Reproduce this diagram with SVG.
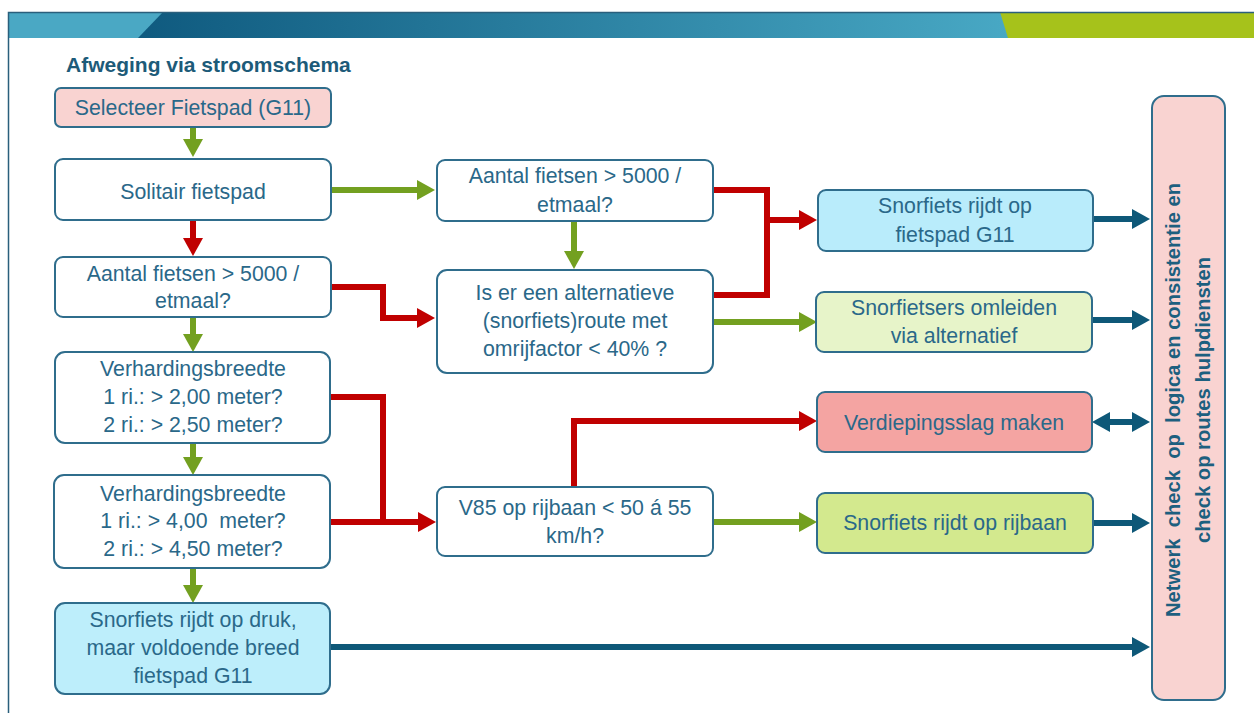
<svg xmlns="http://www.w3.org/2000/svg" width="1254" height="713" viewBox="0 0 1254 713">
<style>
.box{stroke:#2f6d8c;stroke-width:2}
.w{fill:#ffffff}
.t{font-family:"Liberation Sans",Arial,sans-serif;font-size:21.3px;fill:#2a6889;text-anchor:middle}
.tb{font-family:"Liberation Sans",Arial,sans-serif;font-size:20.2px;font-weight:bold;fill:#1d5f7f;text-anchor:middle}
.c{fill:none;stroke-width:6}
.g{stroke:#73a020}
.r{stroke:#c00000}
.b{stroke:#0e5878}
</style>
<defs>
<linearGradient id="hdr" x1="0" y1="0" x2="1" y2="0">
<stop offset="0" stop-color="#0f5a7f"/>
<stop offset="1" stop-color="#48a8c4"/>
</linearGradient>
<marker id="ag" markerUnits="userSpaceOnUse" markerWidth="18" markerHeight="20" refX="8" refY="10" orient="auto"><path d="M0,0 L18,10 L0,20 z" fill="#73a020"/></marker>
<marker id="ar" markerUnits="userSpaceOnUse" markerWidth="18" markerHeight="20" refX="8" refY="10" orient="auto"><path d="M0,0 L18,10 L0,20 z" fill="#c00000"/></marker>
<marker id="ab" markerUnits="userSpaceOnUse" markerWidth="18" markerHeight="20" refX="8" refY="10" orient="auto-start-reverse"><path d="M0,0 L18,10 L0,20 z" fill="#0e5878"/></marker>
</defs>

<g id="header">
<rect x="8" y="12" width="1246" height="26" fill="#4aa8c4"/>
<polygon points="163,12 1000,12 1008,38 138,38" fill="url(#hdr)"/>
<polygon points="1000,12 1254,12 1254,38 1008,38" fill="#a6c21b"/>
<path d="M8.5,713 V12.5 H1254" fill="none" stroke="#2a5f7c" stroke-width="1.5"/>
<text x="66" y="72" font-family="Liberation Sans,Arial,sans-serif" font-size="21px" font-weight="bold" fill="#1d5b79">Afweging via stroomschema</text>
</g>

<g id="connectors">
<path class="c g" d="M193,127 V147" marker-end="url(#ag)"/>
<path class="c g" d="M331,190 H425" marker-end="url(#ag)"/>
<path class="c r" d="M193,220 V246" marker-end="url(#ar)"/>
<path class="c r" d="M331,287 H383 V318 H425" marker-end="url(#ar)"/>
<path class="c g" d="M193,317 V342" marker-end="url(#ag)"/>
<path class="c r" d="M330,397 H383 V522 H426" marker-end="url(#ar)"/>
<path class="c r" d="M330,522 H383"/>
<path class="c g" d="M193,443 V465" marker-end="url(#ag)"/>
<path class="c g" d="M193,568 V593" marker-end="url(#ag)"/>
<path class="c b" d="M330,647 H1140" marker-end="url(#ab)"/>
<path class="c g" d="M574,221 V259" marker-end="url(#ag)"/>
<path class="c r" d="M713,190 H767 V295 H713"/>
<path class="c r" d="M767,220 H807" marker-end="url(#ar)"/>
<path class="c g" d="M713,322 H807" marker-end="url(#ag)"/>
<path class="c r" d="M574,487 V421 H807" marker-end="url(#ar)"/>
<path class="c g" d="M713,522 H807" marker-end="url(#ag)"/>
<path class="c b" d="M1093,219 H1140" marker-end="url(#ab)"/>
<path class="c b" d="M1092,320 H1140" marker-end="url(#ab)"/>
<path class="c b" d="M1102,422 H1140" marker-start="url(#ab)" marker-end="url(#ab)"/>
<path class="c b" d="M1093,523 H1140" marker-end="url(#ab)"/>
</g>

<g id="n-selecteer">
<rect class="box" x="55" y="88" width="276" height="39" rx="6" fill="#f9d3d1"/>
<text class="t" x="193" y="115">Selecteer Fietspad (G11)</text>
</g>
<g id="n-solitair">
<rect class="box w" x="55" y="159" width="276" height="61" rx="8"/>
<text class="t" x="193" y="199">Solitair fietspad</text>
</g>
<g id="n-aantal1">
<rect class="box w" x="55" y="257" width="276" height="60" rx="8"/>
<text class="t" x="193" y="281">Aantal fietsen &gt; 5000 /</text>
<text class="t" x="193" y="308">etmaal?</text>
</g>
<g id="n-verharding1">
<rect class="box w" x="55" y="352" width="275" height="91" rx="10"/>
<text class="t" x="193" y="376">Verhardingsbreedte</text>
<text class="t" x="193" y="404">1 ri.: &gt; 2,00 meter?</text>
<text class="t" x="193" y="432">2 ri.: &gt; 2,50 meter?</text>
</g>
<g id="n-verharding2">
<rect class="box w" x="54" y="475" width="276" height="93" rx="10"/>
<text class="t" x="193" y="501" xml:space="preserve">Verhardingsbreedte</text>
<text class="t" x="193" y="528" xml:space="preserve">1 ri.: &gt; 4,00  meter?</text>
<text class="t" x="193" y="556">2 ri.: &gt; 4,50 meter?</text>
</g>
<g id="n-druk">
<rect class="box" x="55" y="603" width="275" height="91" rx="10" fill="#bdeefb"/>
<text class="t" x="193" y="627">Snorfiets rijdt op druk,</text>
<text class="t" x="193" y="655">maar voldoende breed</text>
<text class="t" x="193" y="683">fietspad G11</text>
</g>
<g id="n-aantal2">
<rect class="box w" x="437" y="160" width="276" height="61" rx="8"/>
<text class="t" x="575" y="183">Aantal fietsen &gt; 5000 /</text>
<text class="t" x="575" y="212">etmaal?</text>
</g>
<g id="n-alternatief">
<rect class="box w" x="437" y="270" width="276" height="103" rx="10"/>
<text class="t" x="575" y="300">Is er een alternatieve</text>
<text class="t" x="575" y="328">(snorfiets)route met</text>
<text class="t" x="575" y="356">omrijfactor &lt; 40% ?</text>
</g>
<g id="n-v85">
<rect class="box w" x="437" y="487" width="276" height="69" rx="8"/>
<text class="t" x="575" y="515">V85 op rijbaan &lt; 50 á 55</text>
<text class="t" x="575" y="543">km/h?</text>
</g>
<g id="n-fietspad">
<rect class="box" x="818" y="190" width="275" height="61" rx="8" fill="#b9ecfb"/>
<text class="t" x="955" y="213">Snorfiets rijdt op</text>
<text class="t" x="955" y="242">fietspad G11</text>
</g>
<g id="n-omleiden">
<rect class="box" x="816" y="292" width="276" height="60" rx="8" fill="#e7f4c9"/>
<text class="t" x="954" y="315">Snorfietsers omleiden</text>
<text class="t" x="954" y="343">via alternatief</text>
</g>
<g id="n-verdieping">
<rect class="box" x="817" y="392" width="275" height="60" rx="8" fill="#f4a4a2"/>
<text class="t" x="954" y="430">Verdiepingsslag maken</text>
</g>
<g id="n-rijbaan">
<rect class="box" x="817" y="493" width="276" height="60" rx="8" fill="#d3e98e"/>
<text class="t" x="955" y="530">Snorfiets rijdt op rijbaan</text>
</g>
<g id="n-netwerk">
<rect class="box" x="1152" y="96" width="73" height="604" rx="12" fill="#f9d3d1"/>
<text class="tb" transform="translate(1180,400) rotate(-90)" x="0" y="0" xml:space="preserve">Netwerk  check  op  logica en consistentie en</text>
<text class="tb" transform="translate(1210,400) rotate(-90)" x="0" y="0">check op routes hulpdiensten</text>
</g>
</svg>
